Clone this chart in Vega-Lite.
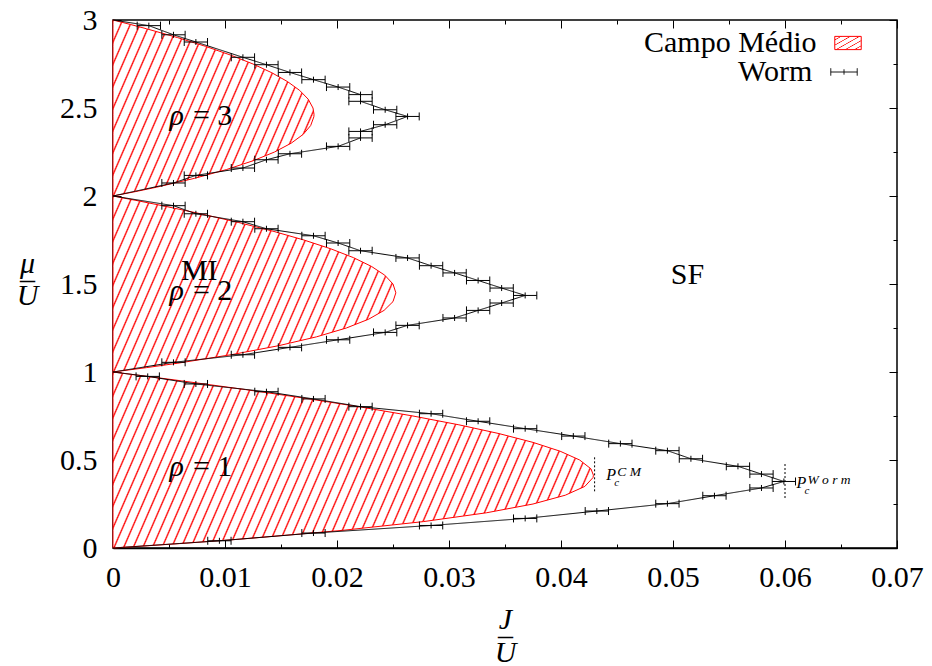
{
"$schema":"https://vega.github.io/schema/vega-lite/v6.json",
"width":784,"height":528,
"autosize":{"type":"none"},
"padding":{"left":113,"top":20,"right":35,"bottom":118},
"background":"white",
"config":{
 "view":{"stroke":"black","strokeWidth":1.5},
 "font":"Liberation Serif",
 "axis":{"domain":false,"grid":true,"gridColor":"black","gridWidth":1,"gridOpacity":1,"ticks":false,"tickSize":0,"labelFont":"Liberation Serif","labelFontSize":30,"labelColor":"black","titleFont":"Liberation Serif","titleFontSize":30,"titleColor":"black","titleFontWeight":"normal","labelFlush":false,"labelOverlap":false,"labelBound":false,"zindex":1},
 "legend":{"labelFont":"Liberation Serif","labelFontSize":30,"labelColor":"black","labelLimit":0,"symbolSize":700,"symbolStrokeWidth":1,"rowPadding":0,"padding":0}
},
"datasets":{
 "mf":[
 {"mu":0,"J":0},{"mu":0.0125,"J":0.003048},{"mu":0.025,"J":0.005945},{"mu":0.05,"J":0.01131},{"mu":0.1,"J":0.020455},{"mu":0.15,"J":0.027717},{"mu":0.2,"J":0.033333},{"mu":0.25,"J":0.0375},{"mu":0.3,"J":0.040385},{"mu":0.35,"J":0.04213},{"mu":0.4,"J":0.042857},{"mu":0.414,"J":0.042893},{"mu":0.45,"J":0.042672},{"mu":0.5,"J":0.041667},{"mu":0.55,"J":0.039919},{"mu":0.6,"J":0.0375},{"mu":0.65,"J":0.03447},{"mu":0.7,"J":0.030882},{"mu":0.75,"J":0.026786},{"mu":0.8,"J":0.022222},{"mu":0.85,"J":0.01723},{"mu":0.9,"J":0.011842},{"mu":0.95,"J":0.00609},{"mu":0.975,"J":0.003085},{"mu":1,"J":0},
 {"mu":1.025,"J":0.003009},{"mu":1.05,"J":0.005793},{"mu":1.1,"J":0.010714},{"mu":1.15,"J":0.014826},{"mu":1.2,"J":0.018182},{"mu":1.25,"J":0.020833},{"mu":1.3,"J":0.022826},{"mu":1.35,"J":0.024202},{"mu":1.4,"J":0.025},{"mu":1.45,"J":0.025255},{"mu":1.5,"J":0.025},{"mu":1.55,"J":0.024265},{"mu":1.6,"J":0.023077},{"mu":1.65,"J":0.021462},{"mu":1.7,"J":0.019444},{"mu":1.75,"J":0.017045},{"mu":1.8,"J":0.014286},{"mu":1.85,"J":0.011184},{"mu":1.9,"J":0.007759},{"mu":1.95,"J":0.004025},{"mu":1.975,"J":0.002048},{"mu":2,"J":0},
 {"mu":2.025,"J":0.002014},{"mu":2.05,"J":0.003893},{"mu":2.1,"J":0.007258},{"mu":2.15,"J":0.010119},{"mu":2.2,"J":0.0125},{"mu":2.25,"J":0.014423},{"mu":2.3,"J":0.015909},{"mu":2.35,"J":0.016978},{"mu":2.4,"J":0.017647},{"mu":2.45,"J":0.017935},{"mu":2.464,"J":0.017949},{"mu":2.5,"J":0.017857},{"mu":2.55,"J":0.01743},{"mu":2.6,"J":0.016667},{"mu":2.65,"J":0.015582},{"mu":2.7,"J":0.014189},{"mu":2.75,"J":0.0125},{"mu":2.8,"J":0.010526},{"mu":2.85,"J":0.008279},{"mu":2.9,"J":0.005769},{"mu":2.95,"J":0.003006},{"mu":2.975,"J":0.001533},{"mu":3,"J":0}
 ],
 "worm":[
 {"o":1,"J":0,"mu":3,"lo":0,"hi":0},
 {"o":2,"J":0.0032,"mu":2.968,"lo":0.00216,"hi":0.00424},
 {"o":3,"J":0.0054,"mu":2.916,"lo":0.00436,"hi":0.00644},
 {"o":4,"J":0.0074,"mu":2.875,"lo":0.00636,"hi":0.00844},
 {"o":5,"J":0.0116,"mu":2.788,"lo":0.01056,"hi":0.01264},
 {"o":6,"J":0.0137,"mu":2.746,"lo":0.01266,"hi":0.01474},
 {"o":7,"J":0.0158,"mu":2.702,"lo":0.01476,"hi":0.01684},
 {"o":8,"J":0.0179,"mu":2.661,"lo":0.01686,"hi":0.01894},
 {"o":9,"J":0.0201,"mu":2.619,"lo":0.01906,"hi":0.02114},
 {"o":10,"J":0.0221,"mu":2.576,"lo":0.02106,"hi":0.02314},
 {"o":11,"J":0.0221,"mu":2.538,"lo":0.02106,"hi":0.02314},
 {"o":12,"J":0.0243,"mu":2.49,"lo":0.02326,"hi":0.02534},
 {"o":13,"J":0.0263,"mu":2.452,"lo":0.02526,"hi":0.02734},
 {"o":14,"J":0.0243,"mu":2.405,"lo":0.02326,"hi":0.02534},
 {"o":15,"J":0.0221,"mu":2.367,"lo":0.02106,"hi":0.02314},
 {"o":16,"J":0.0221,"mu":2.33,"lo":0.02106,"hi":0.02314},
 {"o":17,"J":0.0201,"mu":2.282,"lo":0.01906,"hi":0.02114},
 {"o":18,"J":0.0158,"mu":2.24,"lo":0.01476,"hi":0.01684},
 {"o":19,"J":0.0137,"mu":2.206,"lo":0.01266,"hi":0.01474},
 {"o":20,"J":0.0116,"mu":2.159,"lo":0.01056,"hi":0.01264},
 {"o":21,"J":0.0074,"mu":2.117,"lo":0.00636,"hi":0.00844},
 {"o":22,"J":0.0054,"mu":2.074,"lo":0.00436,"hi":0.00644},
 {"o":23,"J":0,"mu":2,"lo":0,"hi":0},
 {"o":24,"J":0.0054,"mu":1.945,"lo":0.00436,"hi":0.00644},
 {"o":25,"J":0.0074,"mu":1.899,"lo":0.00636,"hi":0.00844},
 {"o":26,"J":0.0116,"mu":1.854,"lo":0.01056,"hi":0.01264},
 {"o":27,"J":0.0137,"mu":1.814,"lo":0.01266,"hi":0.01474},
 {"o":28,"J":0.0179,"mu":1.774,"lo":0.01686,"hi":0.01894},
 {"o":29,"J":0.0201,"mu":1.733,"lo":0.01906,"hi":0.02114},
 {"o":30,"J":0.0221,"mu":1.689,"lo":0.02106,"hi":0.02314},
 {"o":31,"J":0.0263,"mu":1.648,"lo":0.02526,"hi":0.02734},
 {"o":32,"J":0.0284,"mu":1.604,"lo":0.02736,"hi":0.02944},
 {"o":33,"J":0.0305,"mu":1.563,"lo":0.02946,"hi":0.03154},
 {"o":34,"J":0.0326,"mu":1.52,"lo":0.03156,"hi":0.03364},
 {"o":35,"J":0.0347,"mu":1.477,"lo":0.03366,"hi":0.03574},
 {"o":36,"J":0.0368,"mu":1.435,"lo":0.03576,"hi":0.03784},
 {"o":37,"J":0.0347,"mu":1.392,"lo":0.03366,"hi":0.03574},
 {"o":38,"J":0.0326,"mu":1.35,"lo":0.03156,"hi":0.03364},
 {"o":39,"J":0.0305,"mu":1.307,"lo":0.02946,"hi":0.03154},
 {"o":40,"J":0.0263,"mu":1.265,"lo":0.02526,"hi":0.02734},
 {"o":41,"J":0.0243,"mu":1.225,"lo":0.02326,"hi":0.02534},
 {"o":42,"J":0.0201,"mu":1.183,"lo":0.01906,"hi":0.02114},
 {"o":43,"J":0.0158,"mu":1.14,"lo":0.01476,"hi":0.01684},
 {"o":44,"J":0.0116,"mu":1.098,"lo":0.01056,"hi":0.01264},
 {"o":45,"J":0.0054,"mu":1.055,"lo":0.00436,"hi":0.00644},
 {"o":46,"J":0,"mu":1,"lo":0,"hi":0},
 {"o":47,"J":0.0031,"mu":0.975,"lo":0.00206,"hi":0.00414},
 {"o":48,"J":0.0074,"mu":0.932,"lo":0.00636,"hi":0.00844},
 {"o":49,"J":0.0137,"mu":0.888,"lo":0.01266,"hi":0.01474},
 {"o":50,"J":0.0179,"mu":0.847,"lo":0.01686,"hi":0.01894},
 {"o":51,"J":0.0221,"mu":0.803,"lo":0.02106,"hi":0.02314},
 {"o":52,"J":0.0284,"mu":0.763,"lo":0.02736,"hi":0.02944},
 {"o":53,"J":0.0326,"mu":0.72,"lo":0.03156,"hi":0.03364},
 {"o":54,"J":0.0368,"mu":0.678,"lo":0.03576,"hi":0.03784},
 {"o":55,"J":0.0411,"mu":0.636,"lo":0.04006,"hi":0.04214},
 {"o":56,"J":0.0453,"mu":0.593,"lo":0.04426,"hi":0.04634},
 {"o":57,"J":0.0495,"mu":0.553,"lo":0.04846,"hi":0.05054},
 {"o":58,"J":0.0516,"mu":0.507,"lo":0.05056,"hi":0.05264},
 {"o":59,"J":0.0558,"mu":0.464,"lo":0.05476,"hi":0.05684},
 {"o":60,"J":0.0579,"mu":0.42,"lo":0.05686,"hi":0.05894},
 {"o":61,"J":0.0599,"mu":0.378,"lo":0.05886,"hi":0.06094},
 {"o":62,"J":0.0579,"mu":0.341,"lo":0.05686,"hi":0.05894},
 {"o":63,"J":0.0537,"mu":0.297,"lo":0.05266,"hi":0.05474},
 {"o":64,"J":0.0495,"mu":0.252,"lo":0.04846,"hi":0.05054},
 {"o":65,"J":0.0432,"mu":0.21,"lo":0.04216,"hi":0.04424},
 {"o":66,"J":0.0368,"mu":0.168,"lo":0.03576,"hi":0.03784},
 {"o":67,"J":0.0284,"mu":0.128,"lo":0.02736,"hi":0.02944},
 {"o":68,"J":0.0179,"mu":0.085,"lo":0.01686,"hi":0.01894},
 {"o":69,"J":0.0095,"mu":0.041,"lo":0.00846,"hi":0.01054},
 {"o":70,"J":0,"mu":0,"lo":0,"hi":0}
 ],
 "dash":[{"J":0.043,"m1":0.322,"m2":0.52},{"J":0.06,"m1":0.284,"m2":0.479}],
 "rho":[
 {"J":0.0066,"mu":0.407,"n":"= 1"},
 {"J":0.0066,"mu":1.411,"n":"= 2"},
 {"J":0.0066,"mu":2.406,"n":"= 3"}
 ],
 "lab":[
 {"J":0.0077,"mu":1.52,"t":"MI"},
 {"J":0.0513,"mu":1.502,"t":"SF"}
 ],
 "pc":[
 {"J":0.04405,"mu":0.384,"sup":"C M"},
 {"J":0.06102,"mu":0.3426,"sup":"W o r m"}
 ]
},
"layer":[
 {"data":{"name":"mf"},
  "mark":{"type":"area","orient":"horizontal","fillOpacity":1,"strokeWidth":1,
   "fill":{"gradient":"linear","x1":0,"y1":0,"x2":1.6269,"y2":0.77743,"stops":[
{"offset":0,"color":"red"},{"offset":0.0015,"color":"white"},{"offset":0.0085,"color":"white"},
{"offset":0.01,"color":"red"},{"offset":0.0115,"color":"white"},{"offset":0.0185,"color":"white"},
{"offset":0.02,"color":"red"},{"offset":0.0215,"color":"white"},{"offset":0.0285,"color":"white"},
{"offset":0.03,"color":"red"},{"offset":0.0315,"color":"white"},{"offset":0.0385,"color":"white"},
{"offset":0.04,"color":"red"},{"offset":0.0415,"color":"white"},{"offset":0.0485,"color":"white"},
{"offset":0.05,"color":"red"},{"offset":0.0515,"color":"white"},{"offset":0.0585,"color":"white"},
{"offset":0.06,"color":"red"},{"offset":0.0615,"color":"white"},{"offset":0.0685,"color":"white"},
{"offset":0.07,"color":"red"},{"offset":0.0715,"color":"white"},{"offset":0.0785,"color":"white"},
{"offset":0.08,"color":"red"},{"offset":0.0815,"color":"white"},{"offset":0.0885,"color":"white"},
{"offset":0.09,"color":"red"},{"offset":0.0915,"color":"white"},{"offset":0.0985,"color":"white"},
{"offset":0.10,"color":"red"},{"offset":0.1015,"color":"white"},{"offset":0.1085,"color":"white"},
{"offset":0.11,"color":"red"},{"offset":0.1115,"color":"white"},{"offset":0.1185,"color":"white"},
{"offset":0.12,"color":"red"},{"offset":0.1215,"color":"white"},{"offset":0.1285,"color":"white"},
{"offset":0.13,"color":"red"},{"offset":0.1315,"color":"white"},{"offset":0.1385,"color":"white"},
{"offset":0.14,"color":"red"},{"offset":0.1415,"color":"white"},{"offset":0.1485,"color":"white"},
{"offset":0.15,"color":"red"},{"offset":0.1515,"color":"white"},{"offset":0.1585,"color":"white"},
{"offset":0.16,"color":"red"},{"offset":0.1615,"color":"white"},{"offset":0.1685,"color":"white"},
{"offset":0.17,"color":"red"},{"offset":0.1715,"color":"white"},{"offset":0.1785,"color":"white"},
{"offset":0.18,"color":"red"},{"offset":0.1815,"color":"white"},{"offset":0.1885,"color":"white"},
{"offset":0.19,"color":"red"},{"offset":0.1915,"color":"white"},{"offset":0.1985,"color":"white"},
{"offset":0.20,"color":"red"},{"offset":0.2015,"color":"white"},{"offset":0.2085,"color":"white"},
{"offset":0.21,"color":"red"},{"offset":0.2115,"color":"white"},{"offset":0.2185,"color":"white"},
{"offset":0.22,"color":"red"},{"offset":0.2215,"color":"white"},{"offset":0.2285,"color":"white"},
{"offset":0.23,"color":"red"},{"offset":0.2315,"color":"white"},{"offset":0.2385,"color":"white"},
{"offset":0.24,"color":"red"},{"offset":0.2415,"color":"white"},{"offset":0.2485,"color":"white"},
{"offset":0.25,"color":"red"},{"offset":0.2515,"color":"white"},{"offset":0.2585,"color":"white"},
{"offset":0.26,"color":"red"},{"offset":0.2615,"color":"white"},{"offset":0.2685,"color":"white"},
{"offset":0.27,"color":"red"},{"offset":0.2715,"color":"white"},{"offset":0.2785,"color":"white"},
{"offset":0.28,"color":"red"},{"offset":0.2815,"color":"white"},{"offset":0.2885,"color":"white"},
{"offset":0.29,"color":"red"},{"offset":0.2915,"color":"white"},{"offset":0.2985,"color":"white"},
{"offset":0.30,"color":"red"},{"offset":0.3015,"color":"white"},{"offset":0.3085,"color":"white"},
{"offset":0.31,"color":"red"},{"offset":0.3115,"color":"white"},{"offset":0.3185,"color":"white"},
{"offset":0.32,"color":"red"},{"offset":0.3215,"color":"white"},{"offset":0.3285,"color":"white"},
{"offset":0.33,"color":"red"},{"offset":0.3315,"color":"white"},{"offset":0.3385,"color":"white"},
{"offset":0.34,"color":"red"},{"offset":0.3415,"color":"white"},{"offset":0.3485,"color":"white"},
{"offset":0.35,"color":"red"},{"offset":0.3515,"color":"white"},{"offset":0.3585,"color":"white"},
{"offset":0.36,"color":"red"},{"offset":0.3615,"color":"white"},{"offset":0.3685,"color":"white"},
{"offset":0.37,"color":"red"},{"offset":0.3715,"color":"white"},{"offset":0.3785,"color":"white"},
{"offset":0.38,"color":"red"},{"offset":0.3815,"color":"white"},{"offset":0.3885,"color":"white"},
{"offset":0.39,"color":"red"},{"offset":0.3915,"color":"white"},{"offset":0.3985,"color":"white"},
{"offset":0.40,"color":"red"},{"offset":0.4015,"color":"white"},{"offset":0.4085,"color":"white"},
{"offset":0.41,"color":"red"},{"offset":0.4115,"color":"white"},{"offset":0.4185,"color":"white"},
{"offset":0.42,"color":"red"},{"offset":0.4215,"color":"white"},{"offset":0.4285,"color":"white"},
{"offset":0.43,"color":"red"},{"offset":0.4315,"color":"white"},{"offset":0.4385,"color":"white"},
{"offset":0.44,"color":"red"},{"offset":0.4415,"color":"white"},{"offset":0.4485,"color":"white"},
{"offset":0.45,"color":"red"},{"offset":0.4515,"color":"white"},{"offset":0.4585,"color":"white"},
{"offset":0.46,"color":"red"},{"offset":0.4615,"color":"white"},{"offset":0.4685,"color":"white"},
{"offset":0.47,"color":"red"},{"offset":0.4715,"color":"white"},{"offset":0.4785,"color":"white"},
{"offset":0.48,"color":"red"},{"offset":0.4815,"color":"white"},{"offset":0.4885,"color":"white"},
{"offset":0.49,"color":"red"},{"offset":0.4915,"color":"white"},{"offset":0.4985,"color":"white"},
{"offset":0.50,"color":"red"},{"offset":0.5015,"color":"white"},{"offset":0.5085,"color":"white"},
{"offset":0.51,"color":"red"},{"offset":0.5115,"color":"white"},{"offset":0.5185,"color":"white"},
{"offset":0.52,"color":"red"},{"offset":0.5215,"color":"white"},{"offset":0.5285,"color":"white"},
{"offset":0.53,"color":"red"},{"offset":0.5315,"color":"white"},{"offset":0.5385,"color":"white"},
{"offset":0.54,"color":"red"},{"offset":0.5415,"color":"white"},{"offset":0.5485,"color":"white"},
{"offset":0.55,"color":"red"},{"offset":0.5515,"color":"white"},{"offset":0.5585,"color":"white"},
{"offset":0.56,"color":"red"},{"offset":0.5615,"color":"white"},{"offset":0.5685,"color":"white"},
{"offset":0.57,"color":"red"},{"offset":0.5715,"color":"white"},{"offset":0.5785,"color":"white"},
{"offset":0.58,"color":"red"},{"offset":0.5815,"color":"white"},{"offset":0.5885,"color":"white"},
{"offset":0.59,"color":"red"},{"offset":0.5915,"color":"white"},{"offset":0.5985,"color":"white"},
{"offset":0.60,"color":"red"},{"offset":0.6015,"color":"white"},{"offset":0.6085,"color":"white"},
{"offset":0.61,"color":"red"},{"offset":0.6115,"color":"white"},{"offset":0.6185,"color":"white"},
{"offset":0.62,"color":"red"},{"offset":0.6215,"color":"white"},{"offset":0.6285,"color":"white"},
{"offset":0.63,"color":"red"},{"offset":0.6315,"color":"white"},{"offset":0.6385,"color":"white"},
{"offset":0.64,"color":"red"},{"offset":0.6415,"color":"white"},{"offset":0.6485,"color":"white"},
{"offset":0.65,"color":"red"},{"offset":0.6515,"color":"white"},{"offset":0.6585,"color":"white"},
{"offset":0.66,"color":"red"},{"offset":0.6615,"color":"white"},{"offset":0.6685,"color":"white"},
{"offset":0.67,"color":"red"},{"offset":0.6715,"color":"white"},{"offset":0.6785,"color":"white"},
{"offset":0.68,"color":"red"},{"offset":0.6815,"color":"white"},{"offset":0.6885,"color":"white"},
{"offset":0.69,"color":"red"},{"offset":0.6915,"color":"white"},{"offset":0.6985,"color":"white"},
{"offset":0.70,"color":"red"},{"offset":0.7015,"color":"white"},{"offset":0.7085,"color":"white"},
{"offset":0.71,"color":"red"},{"offset":0.7115,"color":"white"},{"offset":0.7185,"color":"white"},
{"offset":0.72,"color":"red"},{"offset":0.7215,"color":"white"},{"offset":0.7285,"color":"white"},
{"offset":0.73,"color":"red"},{"offset":0.7315,"color":"white"},{"offset":0.7385,"color":"white"},
{"offset":0.74,"color":"red"},{"offset":0.7415,"color":"white"},{"offset":0.7485,"color":"white"},
{"offset":0.75,"color":"red"}]}},
  "encoding":{
   "x":{"field":"J","type":"quantitative","scale":{"domain":[0,0.07],"nice":false,"zero":true},
    "axis":{"orient":"bottom","values":[0,0.005,0.01,0.015,0.02,0.025,0.03,0.035,0.04,0.045,0.05,0.055,0.06,0.065,0.07],
     "labelExpr":"abs(datum.value*100 - round(datum.value*100)) < 0.001 ? format(datum.value, '~g') : ''",
     "gridDash":{"condition":{"test":"abs(datum.value*100 - round(datum.value*100)) < 0.001","value":[8,512,8]},"value":[4,520,4]},
     "labelPadding":14,"domain":true,"domainColor":"black","domainWidth":1.5,
     "title":["J","–","U"],"titleFontStyle":"italic","titleLineHeight":16.5,"titleX":392,"titleY":80,"titleAngle":0,"titleAlign":"center","titleBaseline":"alphabetic"}},
   "y":{"field":"mu","type":"quantitative","scale":{"domain":[0,3],"nice":false},
    "axis":{"orient":"left","values":[0,0.25,0.5,0.75,1,1.25,1.5,1.75,2,2.25,2.5,2.75,3],
     "labelExpr":"abs(datum.value*2 - round(datum.value*2)) < 0.001 ? format(datum.value, '~g') : ''",
     "gridDash":{"condition":{"test":"abs(datum.value*2 - round(datum.value*2)) < 0.001","value":[8,768,8]},"value":[4,776,4]},
     "labelPadding":16,"labelAlign":"right","labelBaseline":"middle","domain":true,"domainColor":"black","domainWidth":1.5,
     "title":["μ","–","U"],"titleFontStyle":"italic","titleLineHeight":16,"titleX":-86,"titleY":252,"titleAngle":0,"titleAlign":"center","titleBaseline":"alphabetic"}},
   "stroke":{"datum":"Campo Médio","type":"nominal",
    "scale":{"domain":["Campo Médio"],"range":["#ff0000"]},
    "legend":{"orient":"none","legendX":720,"legendY":8,"title":null,"symbolType":"M-1,-0.5H1V0.5H-1Z","labelOffset":-219,"labelAlign":"left"}}
  }},
 {"data":{"name":"worm"},
  "mark":{"type":"line","strokeWidth":1,"color":"black"},
  "encoding":{
   "x":{"field":"J","type":"quantitative"},
   "y":{"field":"mu","type":"quantitative"},
   "order":{"field":"o","type":"quantitative"},
   "strokeDash":{"datum":"Worm","type":"nominal","scale":{"domain":["Worm"],"range":[[1,0]]},
    "legend":{"orient":"top-right","offset":37,"title":null,"symbolType":"M-1,0H1M-1,-0.28V0.28M1,-0.28V0.28M0,-0.2V0.2","symbolStrokeColor":"black","labelOffset":-121,"labelAlign":"left"}}
  }},
 {"data":{"name":"worm"},
  "transform":[{"filter":"datum.J > 0"}],
  "mark":{"type":"rule","color":"black","strokeWidth":1},
  "encoding":{
   "x":{"field":"lo","type":"quantitative"},
   "x2":{"field":"hi"},
   "y":{"field":"mu","type":"quantitative"}
  }},
 {"data":{"name":"worm"},
  "transform":[{"filter":"datum.J > 0"}],
  "mark":{"type":"rule","color":"black","strokeWidth":1,"yOffset":-4,"y2Offset":4},
  "encoding":{
   "x":{"field":"lo","type":"quantitative"},
   "y":{"field":"mu","type":"quantitative"},
   "y2":{"field":"mu"}
  }},
 {"data":{"name":"worm"},
  "transform":[{"filter":"datum.J > 0"}],
  "mark":{"type":"rule","color":"black","strokeWidth":1,"yOffset":-4,"y2Offset":4},
  "encoding":{
   "x":{"field":"hi","type":"quantitative"},
   "y":{"field":"mu","type":"quantitative"},
   "y2":{"field":"mu"}
  }},
 {"data":{"name":"worm"},
  "transform":[{"filter":"datum.J > 0"}],
  "mark":{"type":"rule","color":"black","strokeWidth":1,"yOffset":-3,"y2Offset":3},
  "encoding":{
   "x":{"field":"J","type":"quantitative"},
   "y":{"field":"mu","type":"quantitative"},
   "y2":{"field":"mu"}
  }},
 {"data":{"name":"dash"},
  "mark":{"type":"rule","color":"black","strokeWidth":1,"strokeDash":[2,2]},
  "encoding":{
   "x":{"field":"J","type":"quantitative"},
   "y":{"field":"m1","type":"quantitative"},
   "y2":{"field":"m2"}
  }},
 {"data":{"name":"rho"},
  "mark":{"type":"text","fontSize":30,"fontStyle":"italic","align":"right","baseline":"alphabetic","font":"Liberation Serif","color":"black","dx":-3},
  "encoding":{
   "x":{"field":"J","type":"quantitative"},
   "y":{"field":"mu","type":"quantitative"},
   "text":{"value":"ρ"}
  }},
 {"data":{"name":"rho"},
  "mark":{"type":"text","fontSize":30,"align":"left","baseline":"alphabetic","font":"Liberation Serif","color":"black","dx":6},
  "encoding":{
   "x":{"field":"J","type":"quantitative"},
   "y":{"field":"mu","type":"quantitative"},
   "text":{"field":"n"}
  }},
 {"data":{"name":"lab"},
  "mark":{"type":"text","fontSize":30,"align":"center","baseline":"alphabetic","font":"Liberation Serif","color":"black"},
  "encoding":{
   "x":{"field":"J","type":"quantitative"},
   "y":{"field":"mu","type":"quantitative"},
   "text":{"field":"t"}
  }},
 {"data":{"name":"pc"},
  "mark":{"type":"text","fontSize":16,"fontStyle":"italic","align":"left","baseline":"alphabetic","font":"Liberation Serif","color":"black"},
  "encoding":{
   "x":{"field":"J","type":"quantitative"},
   "y":{"field":"mu","type":"quantitative"},
   "text":{"value":"P"}
  }},
 {"data":{"name":"pc"},
  "mark":{"type":"text","fontSize":11,"fontStyle":"italic","align":"left","baseline":"alphabetic","font":"Liberation Serif","dx":8,"dy":6,"color":"black"},
  "encoding":{
   "x":{"field":"J","type":"quantitative"},
   "y":{"field":"mu","type":"quantitative"},
   "text":{"value":"c"}
  }},
 {"data":{"name":"pc"},
  "mark":{"type":"text","fontSize":13.5,"fontStyle":"italic","align":"left","baseline":"alphabetic","font":"Liberation Serif","dx":11,"dy":-4,"color":"black"},
  "encoding":{
   "x":{"field":"J","type":"quantitative"},
   "y":{"field":"mu","type":"quantitative"},
   "text":{"field":"sup"}
  }}
]
}
